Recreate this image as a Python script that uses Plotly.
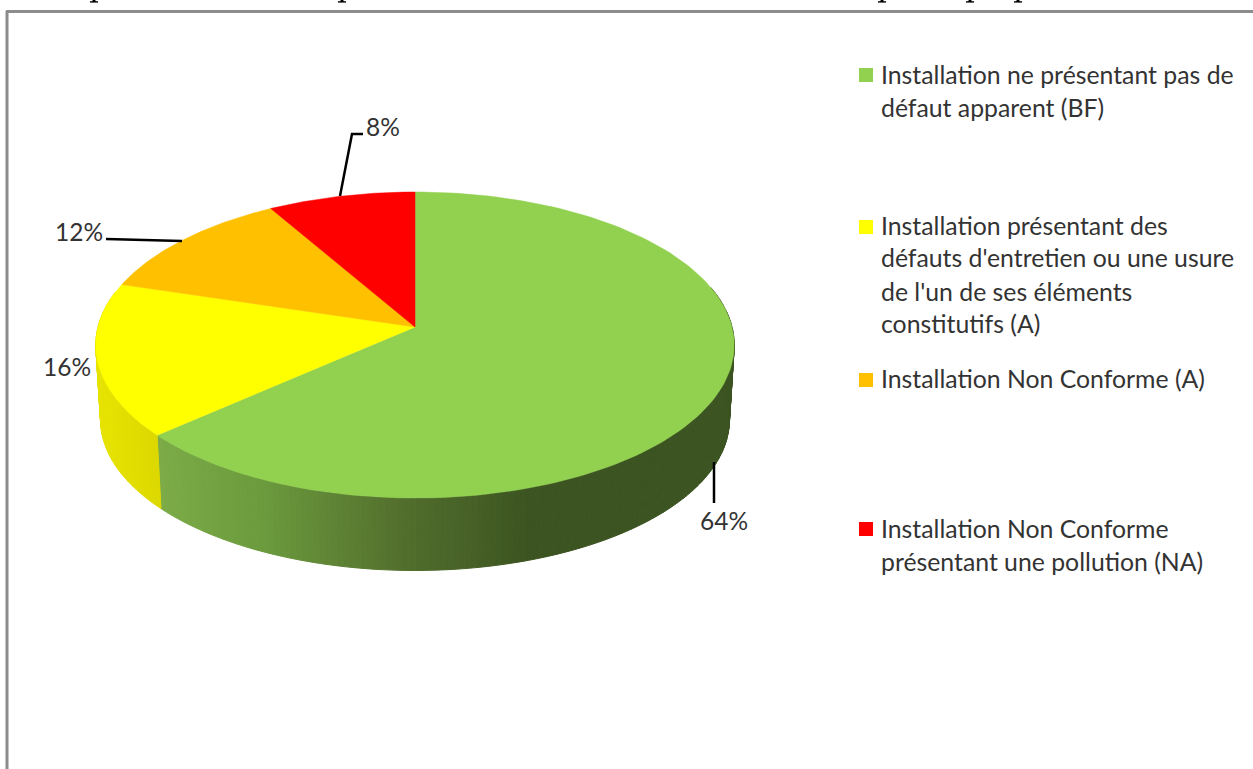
import numpy as np
import plotly.graph_objects as go

# Data
categories = [
    "Installation ne présentant pas de défaut apparent (BF)",
    "Installation présentant des défauts d'entretien ou une usure de l'un de ses éléments constitutifs (A)",
    "Installation Non Conforme (A)",
    "Installation Non Conforme présentant une pollution (NA)",
]
values = [64, 16, 12, 8]
slice_labels = ["64%", "16%", "12%", "8%"]
colors = ["#92D050", "#FFFF00", "#FFC000", "#FF0000"]
legend_lines = [
    ["Installation ne présentant pas de", "défaut apparent (BF)"],
    ["Installation présentant des", "défauts d'entretien ou une usure", "de l'un de ses éléments", "constitutifs (A)"],
    ["Installation Non Conforme (A)"],
    ["Installation Non Conforme", "présentant une pollution (NA)"],
]

# Layout constants (pixel space of the picture)
W, H = 1253, 769
CX, CY = 415, 327
A, B, K = 317.0, 150.9, 0.1178
DEPTH, BOTTOM_SCALE = 75, 0.985
FONT = "Lato"
TEXT = "#333333"
legend_marker_y = [75, 227, 380, 529]
legend_line_y = [[74, 107], [225, 257, 291, 323], [378], [528, 561]]
label_pos = [(724, 520), (67, 366), (79, 231), (383, 126)]
leaders = [
    ([714, 714], [462, 503]),
    None,
    ([182, 106], [241, 239]),
    ([340, 352, 363], [196, 134, 134]),
]
# the source's perspective shifts angles slightly: correction in degrees
warp_at = [0, 230.4, 288, 331.2, 360]
warp_by = [0, -1.8, -1.1, -1.3, 0]
green_stops = [(150, (125, 172, 72)), (263, (107, 154, 61)), (397, (83, 112, 45)), (530, (60, 84, 33)), (800, (60, 84, 33))]
yellow_stops = [(90, (232, 228, 0)), (160, (220, 216, 0))]
orange_wall = (220, 165, 0)
red_wall = (220, 0, 0)
header_marks = [94, 342, 882, 970, 1018]


def project(t, scale=1.0, dy=0.0):
    """t: clockwise angle from the top of the pie, radians. Perspective circle."""
    t = np.asarray(t, dtype=float)
    t = t + np.radians(np.interp(np.degrees(t), warp_at, warp_by))
    X, Y = np.sin(t), np.cos(t)
    d = 1 + K * Y
    return CX + scale * A * X / d, CY + dy - scale * B * Y / d


def interp_color(stops, x):
    xs = [s[0] for s in stops]
    c = [np.interp(x, xs, [s[1][i] for s in stops]) for i in range(3)]
    return "rgb(%d,%d,%d)" % tuple(int(round(v)) for v in c)


fig = go.Figure()

edges = np.cumsum([0] + values) / sum(values) * 2 * np.pi

# Side wall of the disc
wall_min, wall_max = np.radians(75), np.radians(285)
for i in range(len(values)):
    lo, hi = max(edges[i], wall_min), min(edges[i + 1], wall_max)
    if hi <= lo:
        continue
    n = max(2, int((hi - lo) / np.radians(1.0)))
    ts = np.linspace(lo, hi, n + 1)
    for t0, t1 in zip(ts[:-1], ts[1:]):
        x0, y0 = project(t0)
        x1, y1 = project(t1)
        x2, y2 = project(t1, BOTTOM_SCALE, DEPTH)
        x3, y3 = project(t0, BOTTOM_SCALE, DEPTH)
        xm = (x0 + x1) / 2
        if i == 0:
            col = interp_color(green_stops, xm)
        elif i == 1:
            col = interp_color(yellow_stops, xm)
        elif i == 2:
            col = "rgb(%d,%d,%d)" % orange_wall
        else:
            col = "rgb(%d,%d,%d)" % red_wall
        fig.add_trace(go.Scatter(
            x=[x0, x1, x2, x3, x0], y=[y0, y1, y2, y3, y0], mode="lines",
            fill="toself", fillcolor=col, line=dict(color=col, width=1),
            hoverinfo="skip", showlegend=False))

# Top face slices
for i, cat in enumerate(categories):
    ts = np.linspace(edges[i], edges[i + 1], 160)
    px, py = project(ts)
    fig.add_trace(go.Scatter(
        x=np.r_[CX, px, CX], y=np.r_[CY, py, CY], mode="lines",
        fill="toself", fillcolor=colors[i], line=dict(color=colors[i], width=0.5),
        name=cat, hoverinfo="name", showlegend=False))

# Leader lines
for seg in leaders:
    if seg:
        fig.add_trace(go.Scatter(x=seg[0], y=seg[1], mode="lines",
                                 line=dict(color="#000000", width=2.5),
                                 hoverinfo="skip", showlegend=False))

# Slice labels
for lab, (x, y) in zip(slice_labels, label_pos):
    fig.add_annotation(x=x, y=y, text=lab, showarrow=False, xanchor="center", yanchor="middle",
                       font=dict(family=FONT, size=24.5, color=TEXT))

# Legend
fig.add_trace(go.Scatter(
    x=[866] * len(colors), y=legend_marker_y, mode="markers",
    marker=dict(symbol="square", size=14, color=colors, line=dict(width=0)),
    hoverinfo="skip", showlegend=False))
for lines, ys in zip(legend_lines, legend_line_y):
    for line, y in zip(lines, ys):
        fig.add_annotation(x=879, y=y, text=line, showarrow=False, xanchor="left", yanchor="middle",
                           font=dict(family=FONT, size=24.8, color=TEXT))

# Remains of a clipped line of the surrounding document: only descender feet show
for x in header_marks:
    fig.add_shape(type="rect", x0=x - 4, x1=x + 4, y0=1.2, y1=2.6, fillcolor="#000000", line=dict(width=0))
    fig.add_shape(type="rect", x0=x - 1.5, x1=x + 1.5, y0=0, y1=2, fillcolor="#000000", line=dict(width=0))

# Frame of the picture
fig.add_shape(type="line", x0=7, x1=7, y0=11, y1=H + 5, line=dict(color="#8c8c8c", width=3))
fig.add_shape(type="line", x0=6, x1=W + 5, y0=11.5, y1=11.5, line=dict(color="#8c8c8c", width=3))

fig.update_layout(
    width=W, height=H, margin=dict(l=0, r=0, t=0, b=0),
    paper_bgcolor="#ffffff", plot_bgcolor="#ffffff", showlegend=False,
    xaxis=dict(range=[0, W], visible=False, fixedrange=True),
    yaxis=dict(range=[H, 0], visible=False, fixedrange=True),
)
fig.write_html("out.html", config={"displayModeBar": False},
               post_script="document.body.style.margin='0';document.body.style.overflow='hidden';")
